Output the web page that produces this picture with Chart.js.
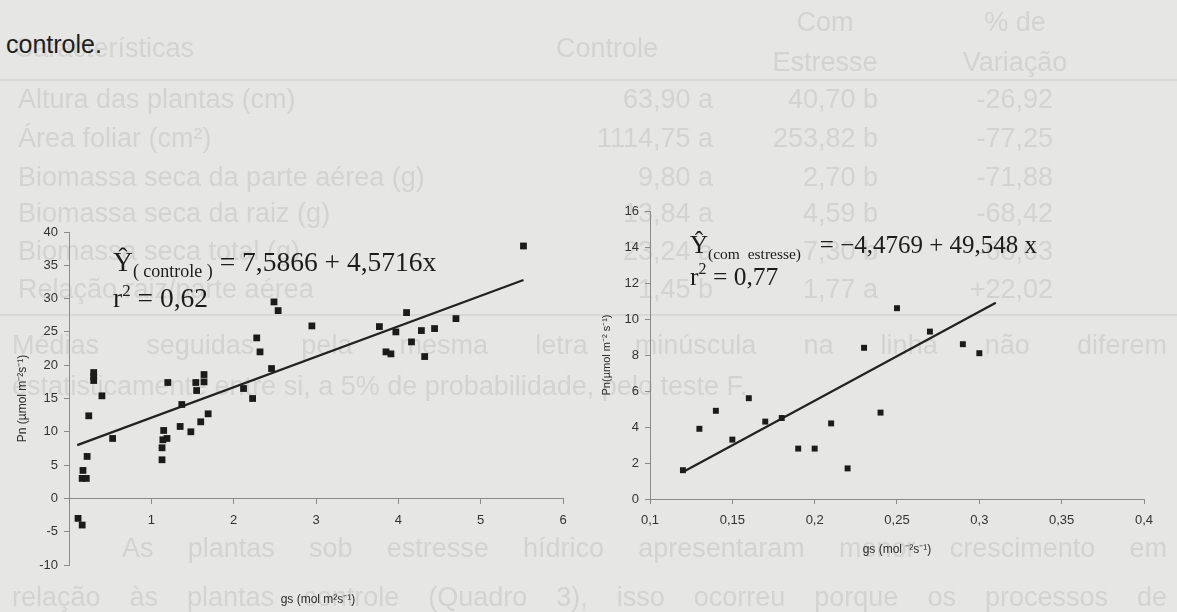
<!DOCTYPE html>
<html>
<head>
<meta charset="utf-8">
<script src="https://cdn.jsdelivr.net/npm/chart.js@4"></script>
<style>
  body { margin: 0; width: 1177px; height: 612px; background: #e6e6e4; overflow: hidden; position: relative;
         font-family: "Liberation Sans", Arial, sans-serif; }
  .ghost { position: absolute; color: #d3d3d1; font-size: 27px; line-height: 1; white-space: nowrap; filter: blur(0.7px); }
  .ghost.r { text-align: right; }
  .ghost.c { text-align: center; }
  .ghost.j { white-space: normal; text-align: justify; text-align-last: justify; }
  .rule { position: absolute; left: 0; width: 1177px; height: 2px; background: #d8d8d6; }
  .page { position: absolute; color: #1e1e1e; font-size: 25px; line-height: 1; }
  canvas { position: absolute; }
  .eq { position: absolute; font-family: "Liberation Serif", "Times New Roman", serif; color: #1c1c1c;
        line-height: 1; white-space: nowrap; }
  .eq sub { vertical-align: -6px; }
  .eq sup { vertical-align: 11px; }
  .xt { position: absolute; font-size: 12px; color: #2a2a2a; white-space: nowrap; transform: translateX(-50%); }
</style>
</head>
<body>

<!-- texte de la page (verso en transparence) -->
<div class="ghost" style="left:14px;top:35px">Características</div>
<div class="ghost" style="left:556px;top:35px">Controle</div>
<div class="ghost c" style="left:765px;top:9px;width:120px">Com</div>
<div class="ghost c" style="left:765px;top:49px;width:120px">Estresse</div>
<div class="ghost c" style="left:955px;top:9px;width:120px">% de</div>
<div class="ghost c" style="left:955px;top:49px;width:120px">Variação</div>
<div class="rule" style="top:79px"></div>

<div class="ghost" style="left:18px;top:86px">Altura das plantas (cm)</div>
<div class="ghost" style="left:18px;top:125px">Área foliar (cm²)</div>
<div class="ghost" style="left:18px;top:164px">Biomassa seca da parte aérea (g)</div>
<div class="ghost" style="left:18px;top:200px">Biomassa seca da raiz (g)</div>
<div class="ghost" style="left:18px;top:238px">Biomassa seca total (g)</div>
<div class="ghost" style="left:18px;top:276px">Relação raiz/parte aérea</div>

<div class="ghost r" style="left:560px;width:153px;top:86px">63,90 a</div>
<div class="ghost r" style="left:560px;width:153px;top:125px">1114,75 a</div>
<div class="ghost r" style="left:560px;width:153px;top:164px">9,80 a</div>
<div class="ghost r" style="left:560px;width:153px;top:200px">13,84 a</div>
<div class="ghost r" style="left:560px;width:153px;top:238px">23,24 a</div>
<div class="ghost r" style="left:560px;width:153px;top:276px">1,45 b</div>

<div class="ghost r" style="left:740px;width:138px;top:86px">40,70 b</div>
<div class="ghost r" style="left:740px;width:138px;top:125px">253,82 b</div>
<div class="ghost r" style="left:740px;width:138px;top:164px">2,70 b</div>
<div class="ghost r" style="left:740px;width:138px;top:200px">4,59 b</div>
<div class="ghost r" style="left:740px;width:138px;top:238px">7,30 b</div>
<div class="ghost r" style="left:740px;width:138px;top:276px">1,77 a</div>

<div class="ghost r" style="left:930px;width:123px;top:86px">-26,92</div>
<div class="ghost r" style="left:930px;width:123px;top:125px">-77,25</div>
<div class="ghost r" style="left:930px;width:123px;top:164px">-71,88</div>
<div class="ghost r" style="left:930px;width:123px;top:200px">-68,42</div>
<div class="ghost r" style="left:930px;width:123px;top:238px">-68,63</div>
<div class="ghost r" style="left:930px;width:123px;top:276px">+22,02</div>
<div class="rule" style="top:314px"></div>

<div class="ghost j" style="left:12px;top:332px;width:1155px">Médias seguidas pela mesma letra minúscula na linha não diferem</div>
<div class="ghost" style="left:12px;top:373px">estatisticamente entre si, a 5% de probabilidade, pelo teste F.</div>
<div class="ghost j" style="left:122px;top:535px;width:1045px">As plantas sob estresse hídrico apresentaram menor crescimento em</div>
<div class="ghost j" style="left:12px;top:584px;width:1155px">relação às plantas controle (Quadro 3), isso ocorreu porque os processos de</div>

<div class="page" style="left:6px;top:32px">controle.</div>

<canvas id="ctrlChart" width="600" height="412" style="left:0;top:200px"></canvas>
<canvas id="stressChart" width="577" height="422" style="left:600px;top:190px"></canvas>

<div class="eq" style="left:113px;top:248px;font-size:27.5px">Ŷ<sub style="font-size:18px">( controle )</sub> = 7,5866 + 4,5716x</div>
<div class="eq" style="left:113px;top:282px;font-size:27.5px">r<sup style="font-size:17px">2</sup> = 0,62</div>
<div class="eq" style="left:690px;top:232px;font-size:25px">Ŷ<sub style="font-size:15.5px">(com&nbsp; estresse)</sub>&nbsp;&nbsp; = −4,4769 + 49,548 x</div>
<div class="eq" style="left:690px;top:261px;font-size:25.5px">r<sup style="font-size:16px">2</sup> = 0,77</div>

<div class="xt" style="left:318px;top:590px">gs (mol m²s⁻¹)</div>

<script>
// Plantes témoins (controle)
const ctrlGs = [0.11, 0.16, 0.16, 0.21, 0.17, 0.22, 0.24, 0.30, 0.30, 0.30, 0.40, 0.53,
                1.13, 1.13, 1.14, 1.19, 1.15, 1.20, 1.35, 1.37, 1.48, 1.54, 1.55, 1.60,
                1.64, 1.64, 1.69, 2.12, 2.23, 2.28, 2.32, 2.46, 2.49, 2.54, 2.95, 3.77,
                3.85, 3.91, 3.97, 4.10, 4.16, 4.28, 4.32, 4.44, 4.70, 5.52];
const ctrlPn = [-3.0, -4.0, 3.0, 3.0, 4.2, 6.3, 12.4, 18.9, 18.3, 17.7, 15.4, 9.0,
                5.8, 7.6, 8.8, 9.0, 10.2, 17.4, 10.8, 14.1, 10.0, 17.4, 16.2, 11.5,
                18.6, 17.5, 12.7, 16.5, 15.0, 24.1, 22.0, 19.5, 29.5, 28.2, 25.9, 25.8,
                22.0, 21.7, 25.0, 27.9, 23.5, 25.2, 21.3, 25.5, 27.0, 37.9];
const ctrlLineGs = [0.1, 5.52];
const ctrlLinePn = [8.0, 32.8];

// Plantes sous stress hydrique
const stressGs = [0.12, 0.13, 0.14, 0.15, 0.16, 0.17, 0.18, 0.19, 0.20, 0.21, 0.22, 0.23,
                  0.24, 0.25, 0.27, 0.29, 0.30];
const stressPn = [1.6, 3.9, 4.9, 3.3, 5.6, 4.3, 4.5, 2.8, 2.8, 4.2, 1.7, 8.4,
                  4.8, 10.6, 9.3, 8.6, 8.1];
const stressLineGs = [0.12, 0.31];
const stressLinePn = [1.5, 10.9];

// Graduations
const ctrlXTicks = [1, 2, 3, 4, 5, 6];
const ctrlYTicks = [-10, -5, 0, 5, 10, 15, 20, 25, 30, 35, 40];
const stressXTicks = [0.1, 0.15, 0.2, 0.25, 0.3, 0.35, 0.4];
const stressYTicks = [0, 2, 4, 6, 8, 10, 12, 14, 16];

const toPoints = (xs, ys) => xs.map((x, i) => ({ x: x, y: ys[i] }));
const fmt = (v) => String(+v.toFixed(2)).replace('.', ',');
const tickFont = { family: '"Liberation Sans", Arial, sans-serif', size: 13 };
const axisGrey = '#8a8a8a';

function axis(min, max, ticks, more) {
    return Object.assign({
        type: 'linear',
        min: min,
        max: max,
        afterBuildTicks: (s) => { s.ticks = ticks.map((v) => ({ value: v })); },
        grid: { display: true, drawOnChartArea: false, drawTicks: true, tickLength: 5, color: axisGrey },
        border: { display: true, color: axisGrey, width: 1 },
        ticks: { font: tickFont, color: '#333', padding: 6, callback: fmt, maxRotation: 0 },
    }, more);
}

function series(xs, ys, lx, ly, size) {
    return [
        {
            type: 'scatter',
            data: toPoints(xs, ys),
            pointStyle: 'rect',
            pointRadius: size,
            backgroundColor: '#1b1b1b',
            borderColor: '#1b1b1b',
            borderWidth: 0,
            clip: false,
        },
        {
            type: 'line',
            data: toPoints(lx, ly),
            borderColor: '#222',
            borderWidth: 2.2,
            pointRadius: 0,
            fill: false,
            clip: false,
        },
    ];
}

const common = {
    responsive: false,
    animation: false,
    plugins: { legend: { display: false }, tooltip: { enabled: false } },
};

// Graphique témoin
new Chart(document.getElementById('ctrlChart'), {
    type: 'scatter',
    data: { datasets: series(ctrlGs, ctrlPn, ctrlLineGs, ctrlLinePn, 4.8) },
    options: Object.assign({}, common, {
        layout: { padding: { left: 0, right: 37, top: 32, bottom: 47 } },
        scales: {
            x: axis(0, 6, ctrlXTicks, {
                position: { y: 0 },
                afterFit: (s) => { s.height = 0; },
                ticks: { font: tickFont, color: '#333', padding: 9, callback: fmt, maxRotation: 0 },
            }),
            y: axis(-10, 40, ctrlYTicks, {
                afterFit: (s) => { s.width = 69; },
                title: {
                    display: true,
                    text: 'Pn (µmol m⁻²s⁻¹)',
                    font: { family: '"Liberation Sans", Arial, sans-serif', size: 12 },
                    color: '#2a2a2a',
                    padding: { top: 15, bottom: 0 },
                },
            }),
        },
    }),
});

// Graphique avec stress
new Chart(document.getElementById('stressChart'), {
    type: 'scatter',
    data: { datasets: series(stressGs, stressPn, stressLineGs, stressLinePn, 4.2) },
    options: Object.assign({}, common, {
        layout: { padding: { left: 0, right: 33, top: 21, bottom: 55 } },
        scales: {
            x: axis(0.1, 0.4, stressXTicks, {
                position: 'bottom',
                afterFit: (s) => { s.height = 58; },
                ticks: { font: tickFont, color: '#333', padding: 9, callback: fmt, maxRotation: 0 },
                title: {
                    display: true,
                    text: 'gs (mol ⁻²s⁻¹)',
                    font: { family: '"Liberation Sans", Arial, sans-serif', size: 12 },
                    color: '#2a2a2a',
                    padding: { top: 0, bottom: 0 },
                },
            }),
            y: axis(0, 16, stressYTicks, {
                afterFit: (s) => { s.width = 50; },
                title: {
                    display: true,
                    text: 'Pn(µmol m⁻² s⁻¹)',
                    font: { family: '"Liberation Sans", Arial, sans-serif', size: 11 },
                    color: '#2a2a2a',
                    padding: { top: 0, bottom: 0 },
                },
            }),
        },
    }),
});
</script>
</body>
</html>
